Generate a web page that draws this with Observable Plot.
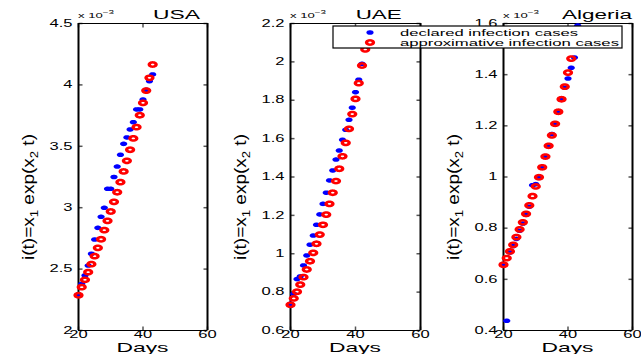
<!DOCTYPE html>
<html><head><meta charset="utf-8">
<script src="https://cdn.jsdelivr.net/npm/d3@7"></script>
<script src="https://cdn.jsdelivr.net/npm/@observablehq/plot@0.6"></script>
<style>
html,body{margin:0;padding:0;background:#fff;}
#fig{position:relative;width:641px;height:354px;overflow:hidden;font-family:"Liberation Sans",Arial,sans-serif;}
#fig svg{position:absolute;left:0;top:0;}
</style></head><body><div id="fig"></div>
<script>
// ---- data (values in units of 1e-3, as on the axes) ----
const days = [20,21,22,23,24,25,26,27,28,29,30,31,32,33,34,35,36,37,38,39,40,41,42,43];
const daysAlgeriaApprox = [20,21,22,23,24,25,26,27,28,29,30,31,32,33,34,35,36,37,38,39,40,41];
const xTicks = [20,40,60];

const usaDeclared = [2.293,2.380,2.448,2.529,2.625,2.741,2.836,2.926,2.999,3.154,3.154,3.250,3.335,3.431,3.520,3.572,3.637,3.696,3.800,3.800,3.881,3.960,4.030,4.085];
const usaApprox   = [2.287,2.353,2.413,2.475,2.540,2.605,2.673,2.743,2.817,2.893,2.969,3.048,3.126,3.208,3.295,3.382,3.472,3.564,3.656,3.753,3.854,3.954,4.058,4.166];
const usaTicks = [2,2.5,3,3.5,4,4.5];

const uaeDeclared = [0.739,0.791,0.868,0.882,0.939,0.991,1.047,1.095,1.151,1.205,1.260,1.318,1.382,1.434,1.491,1.538,1.594,1.646,1.698,1.761,1.842,1.907,1.990,2.090];
const uaeApprox   = [0.734,0.767,0.802,0.839,0.878,0.918,0.961,1.005,1.052,1.100,1.151,1.204,1.260,1.318,1.379,1.443,1.508,1.578,1.651,1.728,1.807,1.889,1.981,2.065];
const uaeTicks = [0.6,0.8,1,1.2,1.4,1.6,1.8,2,2.2];

const algeriaDeclared = [0.657,0.438,0.705,0.730,0.758,0.790,0.818,0.852,0.884,0.968,0.972,0.999,1.036,1.078,1.122,1.168,1.208,1.255,1.302,1.349,1.385,1.427,1.467,1.592];
const algeriaApprox   = [0.657,0.683,0.709,0.735,0.765,0.795,0.823,0.856,0.889,0.925,0.963,0.999,1.038,1.080,1.122,1.163,1.208,1.255,1.304,1.353,1.408,1.463];
const algeriaTicks = [0.4,0.6,0.8,1,1.2,1.4,1.6];

const legendLabels = ["declared infection cases","approximative infection cases"];

// ---- symbols ----
function ellipse(ctx, rx, ry, rev) {
  const n = 32;
  for (let i = 0; i <= n; i++) {
    const t = (rev ? -1 : 1) * 2 * Math.PI * i / n;
    const px = rx * Math.cos(t), py = ry * Math.sin(t);
    if (i) ctx.lineTo(px, py); else ctx.moveTo(px, py);
  }
  ctx.closePath();
}
const dotSym = {draw(ctx) { ellipse(ctx, 3.6, 2.3, false); }};
const ringSym = {draw(ctx) { ellipse(ctx, 5.1, 3.4, false); ellipse(ctx, 1.7, 0.9, true); }};
const tickSym = (dx, dy) => ({draw(ctx) { ctx.moveTo(0, 0); ctx.lineTo(dx, dy); }});

const W = 641, H = 354, MT = 23, MB = 24;
const fig = document.getElementById("fig");
const FONT = "Liberation Sans, Arial, sans-serif";

function stretchTexts(svg, k) {
  svg.querySelectorAll("text").forEach(t => {
    const L = t.getComputedTextLength();
    t.setAttribute("textLength", (L * k).toFixed(2));
    t.setAttribute("lengthAdjust", "spacingAndGlyphs");
  });
}

function panel(p) {
  const decl = p.declDays.map((d, i) => ({day: d, v: p.decl[i]}));
  const appr = p.apprDays.map((d, i) => ({day: d, v: p.appr[i]}));
  const xd = [20, 60], yd = p.yDomain, tl = 4;
  const svg = Plot.plot({
    width: W, height: H,
    marginLeft: p.left, marginRight: W - p.right, marginTop: MT, marginBottom: MB,
    style: {background: "transparent", fontFamily: FONT, fontSize: "10px", color: "#000", overflow: "visible"},
    x: {domain: xd}, y: {domain: yd},
    marks: [
      Plot.axisX(xTicks, {tickSize: 0, tickPadding: 0, label: null, fill: "#000"}),
      Plot.axisY(p.yTicks, {tickSize: 0, tickPadding: 6, label: null, fill: "#000", tickFormat: d3.format("~g")}),
      Plot.dot(p.yTicks, {x: () => xd[0], y: d => d, symbol: tickSym(tl, 0), stroke: "#555", fill: "none"}),
      Plot.dot(p.yTicks, {x: () => xd[1], y: d => d, symbol: tickSym(-tl, 0), stroke: "#555", fill: "none"}),
      Plot.dot(xTicks, {x: d => d, y: () => yd[0], symbol: tickSym(0, -tl), stroke: "#555", fill: "none"}),
      Plot.dot(xTicks, {x: d => d, y: () => yd[1], symbol: tickSym(0, tl), stroke: "#555", fill: "none"}),
      Plot.ruleY(yd, {stroke: "#000", strokeWidth: 1}),
      Plot.ruleX(xd, {stroke: "#000", strokeWidth: 2}),
      Plot.dot(decl, {x: "day", y: "v", symbol: dotSym, fill: "#0000ff", stroke: "none"}),
      Plot.dot(appr, {x: "day", y: "v", symbol: ringSym, fill: "#ff0000", stroke: "none"})
    ]
  });
  fig.appendChild(svg);
  stretchTexts(svg, 1.65);
  const s = d3.select(svg);
  const cx = (p.left + p.right) / 2;
  // title
  s.append("text").attr("x", p.titleX).attr("y", 18.5).attr("text-anchor", "middle")
    .attr("font-size", 12).attr("font-family", FONT).attr("fill", "#000")
    .attr("textLength", p.titleW).attr("lengthAdjust", "spacingAndGlyphs").text(p.name);
  // exponent
  const ex = s.append("text").attr("x", p.left).attr("y", 18).attr("font-size", 8)
    .attr("text-anchor", "start").attr("font-family", FONT).attr("fill", "#000")
    .attr("textLength", 36).attr("lengthAdjust", "spacingAndGlyphs");
  ex.append("tspan").text("x 10");
  ex.append("tspan").attr("dy", -4).attr("font-size", 6).text("\u22123");
  // x label
  s.append("text").attr("x", cx).attr("y", 351.5).attr("text-anchor", "middle")
    .attr("font-size", 13).attr("font-family", FONT).attr("fill", "#000")
    .attr("textLength", 52).attr("lengthAdjust", "spacingAndGlyphs").text("Days");
  // y label
  const yl = s.append("text").attr("transform", `translate(${p.left - 44},197) rotate(-90)`)
    .attr("text-anchor", "middle").attr("font-size", 16).attr("font-family", FONT).attr("fill", "#000")
    .attr("textLength", 126).attr("lengthAdjust", "spacingAndGlyphs");
  yl.append("tspan").text("i(t)=x");
  yl.append("tspan").attr("dy", 3.5).attr("font-size", 11).text("1");
  yl.append("tspan").attr("dy", -3.5).text(" exp(x");
  yl.append("tspan").attr("dy", 3.5).attr("font-size", 11).text("2");
  yl.append("tspan").attr("dy", -3.5).text(" t)");
  return svg;
}

panel({name: "USA", left: 78, right: 207, yDomain: [2, 4.5], yTicks: usaTicks,
  decl: usaDeclared, declDays: days, appr: usaApprox, apprDays: days, titleX: 176.5, titleW: 47});
panel({name: "UAE", left: 290, right: 420, yDomain: [0.6, 2.2], yTicks: uaeTicks,
  decl: uaeDeclared, declDays: days, appr: uaeApprox, apprDays: days, titleX: 378.7, titleW: 46});
const last = panel({name: "Algeria", left: 503, right: 632, yDomain: [0.4, 1.6], yTicks: algeriaTicks,
  decl: algeriaDeclared, declDays: days, appr: algeriaApprox, apprDays: daysAlgeriaApprox, titleX: 597, titleW: 70});

// legend
const lg = d3.select(last).append("g");
lg.append("rect").attr("x", 333).attr("y", 26).attr("width", 289).attr("height", 22)
  .attr("fill", "#fff").attr("stroke", "#000").attr("stroke-width", 1.2);
lg.append("path").attr("transform", "translate(370,32.5)").attr("d", d3.symbol(dotSym)()).attr("fill", "#0000ff");
lg.append("path").attr("transform", "translate(370,42.5)").attr("d", d3.symbol(ringSym)()).attr("fill", "#ff0000");
[[legendLabels[0], 35.5, 178], [legendLabels[1], 45.5, 219]].forEach(([t, y, w]) => {
  lg.append("text").attr("x", 400).attr("y", y).attr("font-size", 9.5).attr("font-family", FONT)
    .attr("text-anchor", "start").attr("fill", "#000")
    .attr("textLength", w).attr("lengthAdjust", "spacingAndGlyphs").text(t);
});
</script></body></html>
